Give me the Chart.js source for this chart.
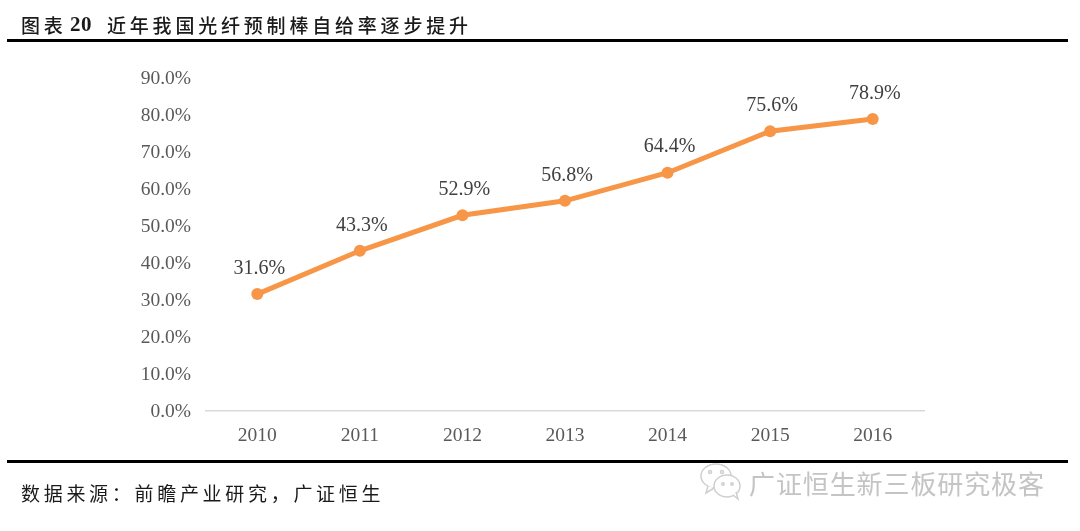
<!DOCTYPE html>
<html>
<head>
<meta charset="utf-8">
<script src="https://cdn.jsdelivr.net/npm/chart.js@4"></script>
<style>
  html, body { margin: 0; padding: 0; background: #fff; width: 1080px; height: 531px; overflow: hidden; }
  #wrap { position: relative; width: 1080px; height: 531px; }
  #wrap canvas { position: absolute; left: 0; top: 0; }
  .txt { position: absolute; white-space: pre; color: #1a1a1a; font-family: "Noto Sans CJK SC", sans-serif; line-height: 1; }
  .rule { position: absolute; left: 7px; width: 1061px; height: 3px; background: #000; }
  .head { top: 15px; font-size: 19px; letter-spacing: 3.8px; font-weight: 500; }
  #titleNum { left: 70px; top: 14px; font-family: "Liberation Serif", serif; font-size: 21px; font-weight: bold; letter-spacing: 0.5px; }
  #source { left: 21px; top: 483px; font-size: 19px; letter-spacing: 3.7px; }
  #mark { left: 749px; top: 470px; font-size: 26px; letter-spacing: 0.9px; color: #c4c4c4; }
  #icon { position: absolute; left: 699px; top: 461px; }
</style>
</head>
<body>
<div id="wrap">
  <canvas id="rateChart" width="1080" height="531"></canvas>
  <div class="txt head" style="left:21px">图表</div>
  <div class="txt" id="titleNum">20</div>
  <div class="txt head" style="left:107px">近年我国光纤预制棒自给率逐步提升</div>
  <div class="rule" style="top:39px"></div>
  <div class="rule" style="top:460px"></div>
  <div class="txt" id="source">数据来源：前瞻产业研究，广证恒生</div>
  <svg id="icon" width="44" height="40" fill="#fff" stroke="#cfcfcf" stroke-width="1.5">
    <ellipse cx="17" cy="15" rx="15" ry="12"/>
    <path d="M9 25 L7 32 L15 27" />
    <ellipse cx="28" cy="25" rx="13" ry="11"/>
    <path d="M34 34 L39 38 L37 31" />
    <circle cx="11" cy="11" r="1.5"/><circle cx="23" cy="11" r="1.5"/>
    <circle cx="24" cy="23" r="1.2"/><circle cx="33" cy="23" r="1.2"/>
  </svg>
  <div class="txt" id="mark">广证恒生新三板研究极客</div>
</div>
<script>
// Chart data
const years = ['2010', '2011', '2012', '2013', '2014', '2015', '2016'];
const selfSufficiency = [31.6, 43.3, 52.9, 56.8, 64.4, 75.6, 78.9];
const yTickStep = 10;
const yMax = 90;

// Draws the value above each point
const valueLabels = {
    id: 'valueLabels',
    afterDatasetsDraw(chart) {
        const ctx = chart.ctx;
        const points = chart.getDatasetMeta(0).data;
        ctx.save();
        ctx.font = '20px "Liberation Serif"';
        ctx.fillStyle = '#404040';
        ctx.textAlign = 'center';
        ctx.textBaseline = 'middle';
        points.forEach((pt, i) => {
            ctx.fillText(selfSufficiency[i].toFixed(1) + '%', pt.x + 2, pt.y - 25.5);
        });
        ctx.restore();
    }
};

new Chart(document.getElementById('rateChart').getContext('2d'), {
    type: 'line',
    data: {
        labels: years,
        datasets: [{
            data: selfSufficiency,
            borderColor: '#F79646',
            backgroundColor: '#F79646',
            borderWidth: 5,
            pointRadius: 6,
            pointBackgroundColor: '#F79646',
            pointBorderWidth: 0,
            tension: 0
        }]
    },
    options: {
        responsive: false,
        animation: false,
        layout: { padding: { left: 0, right: 156, top: 78, bottom: 0 } },
        plugins: { legend: { display: false }, tooltip: { enabled: false } },
        scales: {
            x: {
                offset: true,
                afterFit(scale) { scale.height = 120; },
                grid: { display: false, drawTicks: false },
                border: { color: '#D9D9D9', width: 1.5 },
                ticks: {
                    padding: 13,
                    color: '#595959',
                    font: { family: '"Liberation Serif"', size: 19.5 },
                    maxRotation: 0
                }
            },
            y: {
                min: 0,
                max: yMax,
                afterFit(scale) { scale.width = 206; },
                grid: { display: false, drawTicks: false },
                border: { display: false },
                ticks: {
                    stepSize: yTickStep,
                    padding: 15,
                    labelOffset: 1,
                    color: '#595959',
                    font: { family: '"Liberation Serif"', size: 19.5 },
                    callback: v => v.toFixed(1) + '%'
                }
            }
        }
    },
    plugins: [valueLabels]
});
</script>
</body>
</html>
